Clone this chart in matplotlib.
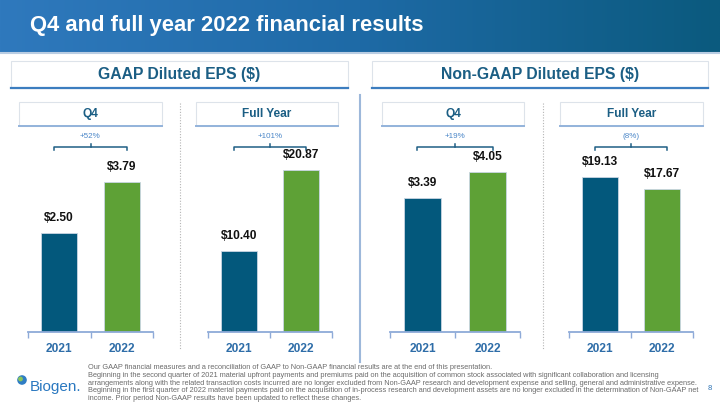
import numpy as np
import matplotlib.pyplot as plt
from matplotlib.patches import Rectangle, Circle
from matplotlib.colors import LinearSegmentedColormap

plt.rcParams['font.family'] = ['Liberation Sans', 'DejaVu Sans']

# data
years = ["2021", "2022"]
gaap_q4 = [2.50, 3.79]
gaap_fy = [10.40, 20.87]
nongaap_q4 = [3.39, 4.05]
nongaap_fy = [19.13, 17.67]
panel_titles = ["Q4", "Full Year", "Q4", "Full Year"]
changes = ["+52%", "+101%", "+19%", "(8%)"]
sections = ["GAAP Diluted EPS ($)", "Non-GAAP Diluted EPS ($)"]
footnote = [
    "Our GAAP financial measures and a reconciliation of GAAP to Non-GAAP financial results are at the end of this presentation.",
    "Beginning in the second quarter of 2021 material upfront payments and premiums paid on the acquisition of common stock associated with significant collaboration and licensing",
    "arrangements along with the related transaction costs incurred are no longer excluded from Non-GAAP research and development expense and selling, general and administrative expense.",
    "Beginning in the first quarter of 2022 material payments paid on the acquisition of in-process research and development assets are no longer excluded in the determination of Non-GAAP net",
    "income. Prior period Non-GAAP results have been updated to reflect these changes.",
]

W, H = 720, 405
c2021 = "#03587c"
c2022 = "#5ea136"
teal = "#1b5e84"
axblue = "#8eaad8"
narrow = ["Liberation Sans Narrow", "Liberation Sans"]

fig = plt.figure(figsize=(7.2, 4.05), dpi=100)

# background overlay in pixel coords
bg = fig.add_axes([0, 0, 1, 1])
bg.set_xlim(0, W)
bg.set_ylim(H, 0)
bg.axis("off")

# header band gradient
cmap = LinearSegmentedColormap.from_list("hdr", ["#2f79bd", "#1e6aa6", "#0b5a7e"])
grad = np.linspace(0, 1, 256).reshape(1, -1)
bg.imshow(grad, cmap=cmap, extent=[0, W, 52, 0], aspect="auto")
bg.plot([0, W], [53, 53], color="#b9cde3", lw=1.5)
bg.text(30, 25, "Q4 and full year 2022 financial results", color="white",
        fontsize=15.8, fontweight="bold", va="center", ha="left")

# section headers
for (x0, x1), label in zip([(11, 348), (372, 708)], sections):
    bg.add_patch(Rectangle((x0, 61), x1 - x0, 27, facecolor="white",
                           edgecolor="#dde3ea", lw=0.8))
    bg.plot([x0, x1], [88, 88], color="#3c7dbf", lw=1.6)
    bg.text((x0 + x1) / 2, 74.5, label, color=teal, fontsize=11.3,
            fontweight="bold", ha="center", va="center")

# vertical separators
bg.plot([360, 360], [95, 362], color="#9db8da", lw=1.5)
for x in [180, 543]:
    bg.plot([x, x], [103, 350], color="#b5b5b5", lw=0.8, ls=(0, (1, 1.5)))

# sub headers
sub_boxes = [(19, 162), (196, 338), (382, 524), (560, 703)]
for (x0, x1), label in zip(sub_boxes, panel_titles):
    bg.add_patch(Rectangle((x0, 102), x1 - x0, 24, facecolor="white",
                           edgecolor="#dde3ea", lw=0.8))
    bg.plot([x0, x1], [126, 126], color="#93b3db", lw=1.4)
    bg.text((x0 + x1) / 2, 114, label, color=teal, fontsize=8.6,
            fontweight="bold", ha="center", va="center")

# bar panels
series = [gaap_q4, gaap_fy, nongaap_q4, nongaap_fy]
ax_left = [28, 208, 390, 569]
ax_width = [125, 124, 130, 124]
base_px, top_px = 332, 140
px_per_unit = [39.5, 7.75, 39.5, 8.1]

for vals, xl, wd, ppu, chg in zip(series, ax_left, ax_width, px_per_unit, changes):
    ax = fig.add_axes([xl / W, (H - base_px) / H, wd / W, (base_px - top_px) / H])
    ax.set_facecolor("none")
    x = np.arange(len(vals))
    ax.bar(x, vals, width=0.58, color=[c2021, c2022], edgecolor="#c9d6e3",
           linewidth=0.6, zorder=2)
    for xi, v in zip(x, vals):
        ax.annotate(f"${v:.2f}", (xi, v), xytext=(0, 11), textcoords="offset points",
                    ha="center", va="center", fontsize=8.6, fontweight="bold",
                    color="#111111")
    ax.set_xlim(-0.5, 1.5)
    ax.set_ylim(0, (base_px - top_px) / ppu)
    for s in ["top", "right", "left"]:
        ax.spines[s].set_visible(False)
    ax.spines["bottom"].set_color(axblue)
    ax.spines["bottom"].set_linewidth(1.3)
    ax.set_yticks([])
    ax.set_xticks(x)
    ax.set_xticklabels(years, fontsize=8.6, fontweight="bold", color="#2e6da8")
    ax.set_xticks([-0.5, 0.5, 1.5], minor=True)
    ax.tick_params(axis="x", which="major", length=0, pad=8)
    ax.tick_params(axis="x", which="minor", length=4, width=1.0, color=axblue)

    # bracket
    tr = ax.get_xaxis_transform()
    yb = (base_px - 147) / (base_px - top_px)
    dy = 3 / (base_px - top_px)
    xa, xb = -0.08, 1.08
    ax.plot([xa, xa, xb, xb], [yb - dy, yb, yb, yb - dy], color="#1f5f85",
            lw=1.1, transform=tr, clip_on=False)
    ax.plot([0.5, 0.5], [yb, yb + dy], color="#1f5f85", lw=1.1,
            transform=tr, clip_on=False)
    ax.text(0.5, (base_px - 137) / (base_px - top_px), chg, transform=tr,
            ha="center", va="center", fontsize=5.8, color="#4a86c8", clip_on=False)

# footer
bg.add_patch(Circle((22, 380), 4.8, facecolor="#2f7dc4", edgecolor="none"))
bg.add_patch(Circle((20.5, 379), 2.4, facecolor="#8cc65a", edgecolor="none"))
bg.text(30, 387.5, "Biogen.", color="#2a78c0", fontsize=11,
        ha="left", va="center", family=narrow)
for i, line in enumerate(footnote):
    bg.text(88, 367.5 + 7.8 * i, line, color="#6b6b6b", fontsize=5.3,
            ha="left", va="center", family=narrow)
bg.text(710, 388, "8", color="#2f74b5", fontsize=5.5, ha="center", va="center")

fig.savefig("out.png", dpi=100)
